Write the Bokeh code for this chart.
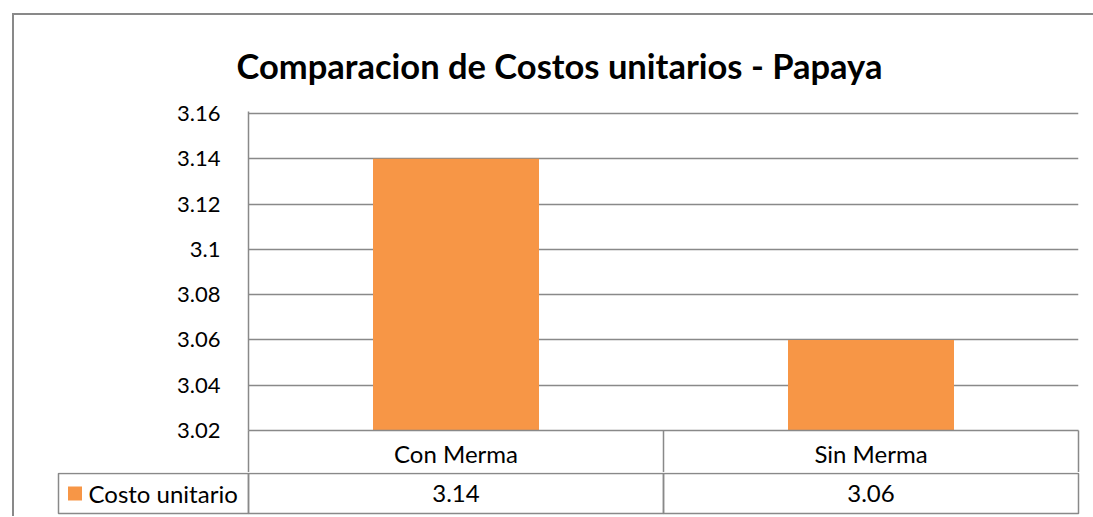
from bokeh.plotting import figure
from bokeh.layouts import column
from bokeh.models import Range1d, FixedTicker, NumeralTickFormatter, LinearAxis
from bokeh.core.properties import value
from bokeh.embed import file_html
from bokeh.resources import INLINE

# ---- data ----
TITLE = "Comparacion de Costos unitarios - Papaya"
CATEGORIES = ["Con Merma", "Sin Merma"]
VALUES = [3.14, 3.06]
SERIES = "Costo unitario"
Y_TICKS = [3.02, 3.04, 3.06, 3.08, 3.10, 3.12, 3.14, 3.16]

# ---- style ----
FONT = "Lato"
BAR_COLOR = "#F79646"
LINE_COLOR = "#898989"
Y_MIN, Y_MAX = Y_TICKS[0], Y_TICKS[-1]
PAD = (Y_MAX - Y_MIN) / 317 * 2
n = len(CATEGORIES)
centers = [i + 0.5 for i in range(n)]   # category slots [i, i+1]
ROW_H = 42

pA = figure(width=1079, height=457,
            x_range=Range1d(0, n),
            y_range=Range1d(Y_MIN, Y_MAX + PAD),
            output_backend="svg", toolbar_location=None,
            x_axis_location=None,
            min_border_left=234, min_border_right=15,
            min_border_top=96, min_border_bottom=ROW_H,
            outline_line_color=None)
pA.frame_align = False

pA.vbar(x=centers, top=VALUES, bottom=Y_MIN, width=0.4,
        fill_color=BAR_COLOR, line_color=None)

ax = pA.yaxis[0]
ax.ticker = FixedTicker(ticks=Y_TICKS)
ax.formatter = NumeralTickFormatter(format="0.0[0]")
ax.major_tick_line_color = None
ax.minor_tick_line_color = None
ax.axis_line_color = LINE_COLOR
ax.axis_line_width = 1.5
ax.major_label_text_font = FONT
ax.major_label_text_font_size = "22px"
ax.major_label_text_color = "black"
ax.major_label_standoff = 22

pA.ygrid.grid_line_color = LINE_COLOR
pA.ygrid.grid_line_width = 1.5
pA.xgrid.visible = False

# category row of the data table: an axis whose minor ticks are the cell dividers
xax = LinearAxis(ticker=FixedTicker(ticks=centers, minor_ticks=list(range(n + 1))),
                 major_label_overrides={c: cat for c, cat in zip(centers, CATEGORIES)},
                 major_tick_line_color=None, major_tick_out=0, major_tick_in=0,
                 minor_tick_line_color=LINE_COLOR, minor_tick_line_width=1.5,
                 minor_tick_out=ROW_H, minor_tick_in=0,
                 axis_line_color=LINE_COLOR, axis_line_width=1.5,
                 major_label_text_font=FONT, major_label_text_font_size="24px",
                 major_label_text_color="black", major_label_standoff=8 - ROW_H)
pA.add_layout(xax, "below")

pA.title.text = TITLE
pA.title.text_font = FONT
pA.title.text_font_style = "bold"
pA.title.text_font_size = "34.5px"
pA.title.text_color = "black"
pA.title.align = "left"
pA.title.offset = -12
pA.title.standoff = 52

# ---- value row of the data table ----
LEG_L = -(248 - 58) / 415
pB = figure(width=1079, height=44,
            x_range=Range1d(-(248 - 56) / 415, n + 2 / 415),
            y_range=Range1d(-3 / 40, 1 + 1 / 40),
            output_backend="svg", toolbar_location=None,
            x_axis_location=None, y_axis_location=None,
            min_border_left=42, min_border_right=13,
            min_border_top=0, min_border_bottom=0,
            outline_line_color=None)
pB.frame_align = False
pB.xgrid.visible = False
pB.ygrid.visible = False

idx = list(range(n))
pB.quad(left=[LEG_L] + idx, right=[0] + [i + 1 for i in idx], bottom=0, top=1,
        fill_color=None, line_color=LINE_COLOR, line_width=1.5)
pB.text(x=centers, y=0.5, text=[f"{v:.2f}" for v in VALUES],
        text_align="center", text_baseline="middle",
        text_font=value(FONT), text_font_size="24px", text_color="black")
pB.scatter(x=[LEG_L + 16.5 / 415], y=[0.5], marker="square", size=14,
           fill_color=BAR_COLOR, line_color=None)
pB.text(x=[LEG_L + 30 / 415], y=[0.5], text=[SERIES],
        text_align="left", text_baseline="middle",
        text_font=value(FONT), text_font_size="24px", text_color="black")

layout = column(pA, pB, spacing=0, margin=(13, 0, 0, 12),
                styles={"border-left": f"2px solid {LINE_COLOR}",
                        "border-top": f"2px solid {LINE_COLOR}"})

open("out.html", "w").write(file_html(layout, INLINE))
